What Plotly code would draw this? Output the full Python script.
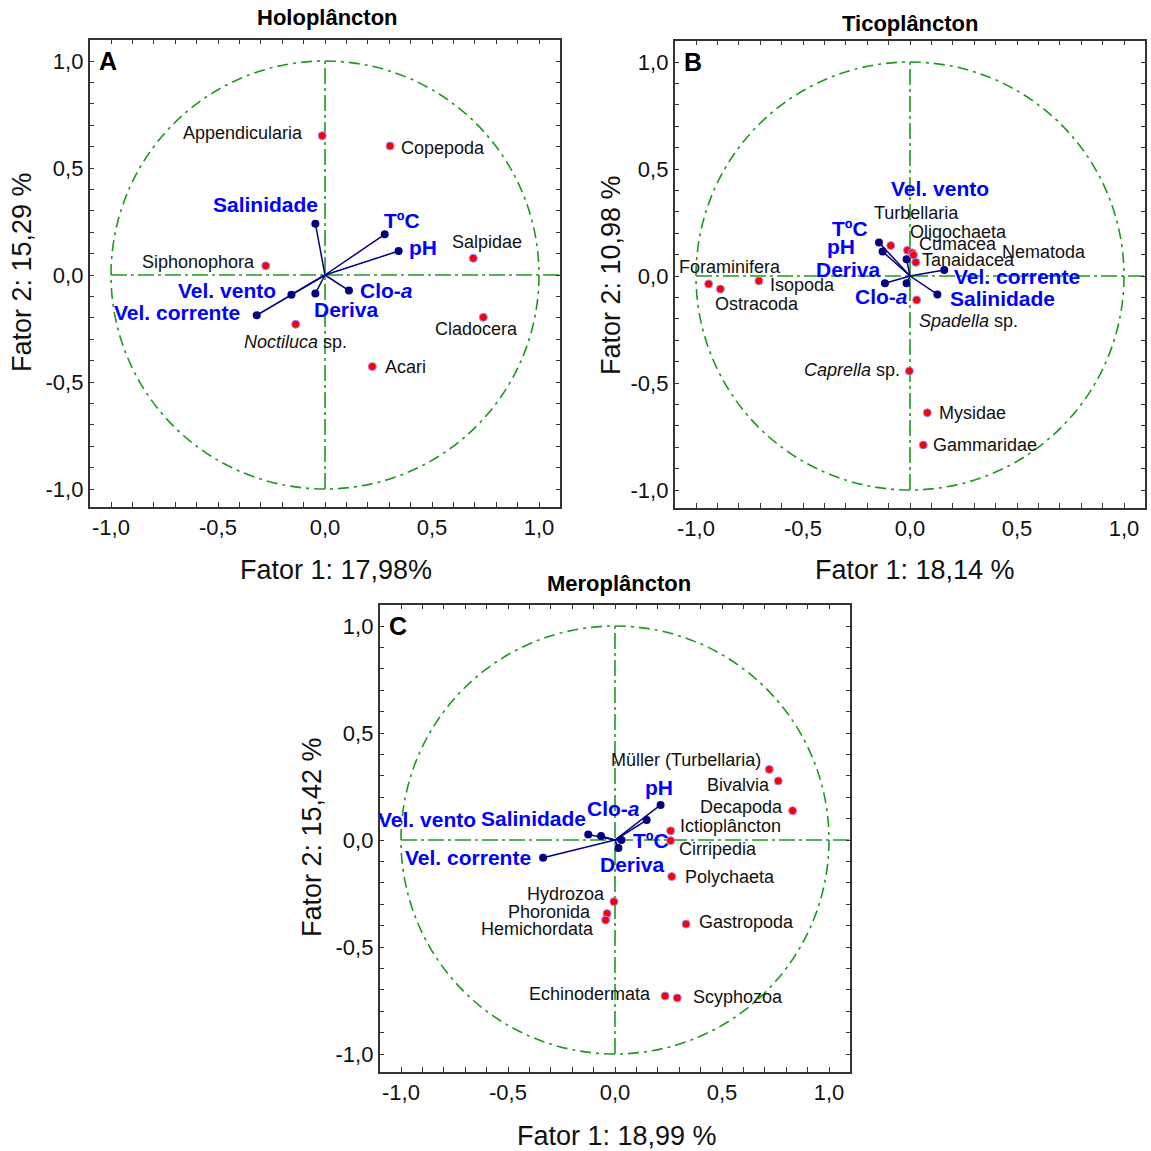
import plotly.graph_objects as go

# ---------------- DATA ----------------
# Panel A – Holoplâncton
holo_species = ["Appendicularia", "Copepoda", "Salpidae", "Siphonophora",
                "<i>Noctiluca</i> sp.", "Cladocera", "Acari"]
holo_sp_f1 = [-0.013, 0.304, 0.693, -0.277, -0.137, 0.740, 0.221]
holo_sp_f2 = [0.651, 0.603, 0.078, 0.043, -0.230, -0.198, -0.428]
holo_vars = ["Salinidade", "TºC", "pH", "Vel. vento", "Vel. corrente", "Deriva", "Clo-<i>a</i>"]
holo_var_f1 = [-0.045, 0.279, 0.344, -0.157, -0.319, -0.045, 0.112]
holo_var_f2 = [0.240, 0.190, 0.112, -0.092, -0.188, -0.086, -0.073]

# Panel B – Ticoplâncton
tico_species = ["Foraminifera", "Ostracoda", "Isopoda", "Turbellaria", "Oligochaeta",
                "Cumacea", "Nematoda", "Tanaidacea", "<i>Spadella</i> sp.",
                "<i>Caprella</i> sp.", "Mysidae", "Gammaridae"]
tico_sp_f1 = [-0.941, -0.886, -0.706, -0.090, -0.012, 0.010, 0.016, 0.027, 0.031,
              -0.003, 0.081, 0.062]
tico_sp_f2 = [-0.037, -0.061, -0.023, 0.142, 0.120, 0.108, 0.098, 0.064, -0.112,
              -0.444, -0.639, -0.790]
tico_vars = ["Vel. vento", "TºC", "pH", "Deriva", "Clo-<i>a</i>", "Vel. corrente", "Salinidade"]
tico_var_f1 = [-0.016, -0.145, -0.128, -0.117, -0.016, 0.160, 0.128]
tico_var_f2 = [0.078, 0.157, 0.114, -0.034, -0.034, 0.028, -0.086]

# Panel C – Meroplâncton
mero_species = ["Müller (Turbellaria)", "Bivalvia", "Decapoda", "Ictioplâncton", "Cirripedia",
                "Polychaeta", "Hydrozoa", "Phoronida", "Hemichordata", "Gastropoda",
                "Echinodermata", "Scyphozoa"]
mero_sp_f1 = [0.721, 0.763, 0.830, 0.260, 0.260, 0.265, -0.005, -0.037, -0.044, 0.332,
              0.234, 0.291]
mero_sp_f2 = [0.330, 0.276, 0.137, 0.043, -0.003, -0.171, -0.288, -0.344, -0.374, -0.393,
              -0.729, -0.738]
mero_vars = ["pH", "Clo-<i>a</i>", "Vel. vento", "Salinidade", "Vel. corrente", "Deriva", "TºC"]
mero_var_f1 = [0.213, 0.148, -0.125, -0.065, -0.336, 0.016, 0.030]
mero_var_f2 = [0.164, 0.093, 0.026, 0.019, -0.083, -0.037, 0.000]

panel_titles = ["Holoplâncton", "Ticoplâncton", "Meroplâncton"]
panel_letters = ["A", "B", "C"]
x_titles = ["Fator 1: 17,98%", "Fator 1: 18,14 %", "Fator 1: 18,99 %"]
y_titles = ["Fator 2: 15,29 %", "Fator 2: 10,98 %", "Fator 2: 15,42 %"]
tick_pos = [-1.0, -0.5, 0.0, 0.5, 1.0]
tick_labels = ["-1,0", "-0,5", "0,0", "0,5", "1,0"]

# ---------------- STYLE / LAYOUT ----------------
W = H = 1151
FONT = "Liberation Sans, Arial, sans-serif"
RED = "#ff0000"
NAVY = "#000080"
BLUE = "#0000ff"
GREEN = "#1c9a1c"
AXC = "#333333"
XR = [-1.10, 1.10]
YR = [-1.085, 1.10]

# pixel origin (0,0) of each panel
origins = [(325, 275), (910, 276), (615, 840)]
SC = 214.0

# label offsets (anchor, dx, dy) in screen pixels (dy positive = down)
sp_off = [
    [("right", -17, -3), ("left", 9, 2), ("center", 14, -16), ("right", -9, -4),
     ("center", 0, 18), ("center", -7, 12), ("left", 11, 0)],
    [("center", 21, -17), ("left", -7, 15), ("left", 9, 4), ("left", -19, -33),
     ("left", 1, -18), ("left", 5, -9), ("left", 87, -3), ("left", 4, -2),
     ("left", 0, 21), ("right", -7, -1), ("left", 10, 0), ("left", 8, 0)],
    [("right", -6, -9), ("right", -6, 4), ("right", -8, -4), ("left", 7, -5),
     ("left", 6, 8), ("left", 11, 0), ("right", -7, -8), ("right", -14, -2),
     ("right", -10, 9), ("left", 11, -2), ("right", -12, -2), ("left", 14, -1)],
]
var_off = [
    [("right", 5, -19), ("left", -3, -14), ("left", 8, -4), ("right", -13, -4),
     ("right", -15, -3), ("left", -3, 16), ("left", 9, 0)],
    [("center", 33, -71), ("right", -9, -14), ("right", -26, -5), ("right", -2, -14),
     ("right", 3, 13), ("left", 8, 6), ("left", 11, 4)],
    [("center", -2, -17), ("right", -5, -12), ("right", -110, -15), ("right", -13, -17),
     ("right", -10, 0), ("center", 14, 17), ("left", 10, 0)],
]

panels = [
    (holo_species, holo_sp_f1, holo_sp_f2, holo_vars, holo_var_f1, holo_var_f2),
    (tico_species, tico_sp_f1, tico_sp_f2, tico_vars, tico_var_f1, tico_var_f2),
    (mero_species, mero_sp_f1, mero_sp_f2, mero_vars, mero_var_f1, mero_var_f2),
]

fig = go.Figure()
annotations = []
shapes = []
layout_axes = {}

for i, (sp, spx, spy, vv, vx, vy) in enumerate(panels):
    k = "" if i == 0 else str(i + 1)
    xa, ya = "x" + k, "y" + k
    ox, oy = origins[i]
    left = ox + XR[0] * SC
    right = ox + XR[1] * SC
    top = oy - YR[1] * SC
    bottom = oy - YR[0] * SC
    xdom = [left / W, right / W]
    ydom = [1 - bottom / H, 1 - top / H]

    axis_common = dict(
        range=XR, showgrid=False, zeroline=False, showline=True, linecolor=AXC,
        linewidth=1.6, mirror="ticks", ticks="inside", ticklen=5, tickwidth=1.2,
        tickcolor=AXC, tickvals=tick_pos, ticktext=tick_labels,
        tickfont=dict(family=FONT, size=22, color="#111111"),
        minor=dict(dtick=0.1, tick0=0, ticks="inside", ticklen=5, tickwidth=1.2,
                   tickcolor=AXC),
        fixedrange=True,
    )
    xaxis = dict(axis_common, domain=xdom, anchor=ya)
    yaxis = dict(axis_common, domain=ydom, anchor=xa)
    yaxis["range"] = YR
    layout_axes["xaxis" + k] = xaxis
    layout_axes["yaxis" + k] = yaxis

    dash_line = "16px,4px,3px,4px"
    # correlation circle and axes through origin
    shapes.append(dict(type="circle", xref=xa, yref=ya, x0=-1, y0=-1, x1=1, y1=1,
                       line=dict(color=GREEN, width=1.6, dash="11px,5px,3px,5px"),
                       layer="below"))
    shapes.append(dict(type="line", xref=xa, yref=ya, x0=-1, y0=0, x1=XR[1], y1=0,
                       line=dict(color=GREEN, width=1.6, dash=dash_line), layer="below"))
    shapes.append(dict(type="line", xref=xa, yref=ya, x0=0, y0=-1, x1=0, y1=1,
                       line=dict(color=GREEN, width=1.6, dash=dash_line), layer="below"))

    # vectors for environmental variables
    lx, ly = [], []
    for a, b in zip(vx, vy):
        lx += [0, a, None]
        ly += [0, b, None]
    fig.add_trace(go.Scatter(x=lx, y=ly, mode="lines", xaxis=xa, yaxis=ya,
                             line=dict(color=NAVY, width=1.5), hoverinfo="skip",
                             showlegend=False))
    fig.add_trace(go.Scatter(x=vx, y=vy, mode="markers", xaxis=xa, yaxis=ya,
                             marker=dict(color=NAVY, size=8), text=vv,
                             showlegend=False))
    # species points
    fig.add_trace(go.Scatter(x=spx, y=spy, mode="markers", xaxis=xa, yaxis=ya,
                             marker=dict(color=RED, size=8,
                                         line=dict(color="#9a8cff", width=1)),
                             text=sp, showlegend=False))

    for name, a, b, (anc, dx, dy) in zip(sp, spx, spy, sp_off[i]):
        annotations.append(dict(x=a, y=b, xref=xa, yref=ya, text=name, showarrow=False,
                                xanchor=anc, yanchor="middle", xshift=dx, yshift=-dy,
                                font=dict(family=FONT, size=18, color="#111111")))
    for name, a, b, (anc, dx, dy) in zip(vv, vx, vy, var_off[i]):
        annotations.append(dict(x=a, y=b, xref=xa, yref=ya, text="<b>" + name + "</b>",
                                showarrow=False, xanchor=anc, yanchor="middle",
                                xshift=dx, yshift=-dy,
                                font=dict(family=FONT, size=21, color=BLUE)))

    # panel letter
    annotations.append(dict(x=(left + 7) / W, y=1 - (top + 21) / H, xref="paper",
                            yref="paper", text="<b>" + panel_letters[i] + "</b>",
                            showarrow=False, xanchor="left", yanchor="middle",
                            font=dict(family=FONT, size=25, color="#000000")))

# panel titles & axis titles (paper coordinates, in pixels)
title_pos = [(327, 18), (910, 23), (619, 583)]
xt_pos = [(336, 570), (915, 570), (617, 1136)]
yt_pos = [(22, 272), (611, 275), (312, 837)]
for i in range(3):
    tx, ty = title_pos[i]
    annotations.append(dict(x=tx / W, y=1 - ty / H, xref="paper", yref="paper",
                            text="<b>" + panel_titles[i] + "</b>", showarrow=False,
                            xanchor="center", yanchor="middle",
                            font=dict(family=FONT, size=22, color="#000000")))
    tx, ty = xt_pos[i]
    annotations.append(dict(x=tx / W, y=1 - ty / H, xref="paper", yref="paper",
                            text=x_titles[i], showarrow=False,
                            xanchor="center", yanchor="middle",
                            font=dict(family=FONT, size=27, color="#111111")))
    tx, ty = yt_pos[i]
    annotations.append(dict(x=tx / W, y=1 - ty / H, xref="paper", yref="paper",
                            text=y_titles[i], showarrow=False, textangle=-90,
                            xanchor="center", yanchor="middle",
                            font=dict(family=FONT, size=27, color="#111111")))

fig.update_layout(
    width=W, height=H, autosize=False,
    margin=dict(l=0, r=0, t=0, b=0, pad=0),
    paper_bgcolor="white", plot_bgcolor="white",
    showlegend=False, annotations=annotations, shapes=shapes,
    font=dict(family=FONT),
    **layout_axes,
)

fig.write_html("out.html", include_plotlyjs=True, config={"displayModeBar": False})
